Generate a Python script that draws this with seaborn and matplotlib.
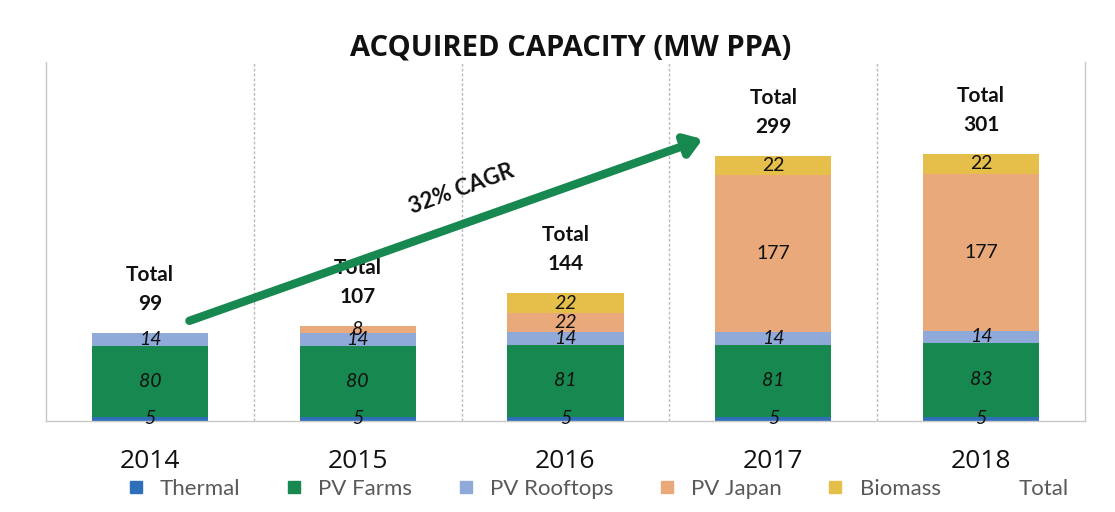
import matplotlib
matplotlib.use("Agg")
import matplotlib.pyplot as plt
from matplotlib.lines import Line2D
import seaborn as sns
import pandas as pd
import numpy as np

years = ["2014", "2015", "2016", "2017", "2018"]
series = ["Thermal", "PV Farms", "PV Rooftops", "PV Japan", "Biomass"]
thermal = [5, 5, 5, 5, 5]
pv_farms = [80, 80, 81, 81, 83]
pv_rooftops = [14, 14, 14, 14, 14]
pv_japan = [0, 8, 22, 177, 177]
biomass = [0, 0, 22, 22, 22]
totals = [99, 107, 144, 299, 301]
colors = ["#2f6fba", "#17884f", "#8fa9d9", "#e9a97b", "#e6bf4a"]

values = {"Thermal": thermal, "PV Farms": pv_farms, "PV Rooftops": pv_rooftops,
          "PV Japan": pv_japan, "Biomass": biomass}

rows = []
for s in series:
    for y, v in zip(years, values[s]):
        rows.append({"year": y, "series": s, "value": v})
df = pd.DataFrame(rows)

sns.set_theme(style="white")
plt.rcParams["font.family"] = ["Lato", "DejaVu Sans"]

fig = plt.figure(figsize=(11.15, 5.12), dpi=100)
ax = fig.add_axes([46 / 1115, 91 / 512, 1039 / 1115, 359 / 512])

bottom = np.zeros(len(years))
for s, c in zip(series, colors):
    sub = df[df["series"] == s]
    sns.barplot(data=sub, x="year", y="value", order=years, color=c,
                width=0.56, bottom=bottom.copy(), ax=ax, errorbar=None,
                saturation=1, linewidth=0)
    vals = np.array(values[s], dtype=float)
    for i, v in enumerate(vals):
        if v <= 0:
            continue
        upright = s in ("PV Japan", "Biomass") and years[i] in ("2017", "2018")
        ax.text(i, bottom[i] + v / 2, str(int(v)), ha="center", va="center",
                fontsize=14, color="#111111",
                style="normal" if upright else "italic")
    bottom += vals

for i, t in enumerate(totals):
    ax.annotate(f"Total\n{t}", xy=(i, t), xytext=(0, 14), textcoords="offset points",
                ha="center", va="bottom", fontsize=15, fontweight="bold",
                color="#111111", linespacing=1.55)

# CAGR arrow
ax.annotate("", xy=(2.66, 318), xytext=(0.19, 113),
            arrowprops=dict(arrowstyle="-|>,head_length=0.8,head_width=0.55",
                            color="#17884f", lw=6, shrinkA=0, shrinkB=0))
ax.text(1.5, 262, "32% CAGR", rotation=20, ha="center", va="center",
        fontsize=16, fontweight="bold", color="#111111", rotation_mode="anchor")

ax.set_xlim(-0.5, 4.5)
ax.set_ylim(0, 405)
for b in [0.5, 1.5, 2.5, 3.5]:
    ax.axvline(b, color="#b8b8c4", lw=1, ls=(0, (2, 1.5)), zorder=0)
ax.set_yticks([])
ax.set_xlabel("")
ax.set_ylabel("")
ax.tick_params(axis="x", length=0, pad=20, labelsize=19, labelcolor="#111111")
for lab in ax.get_xticklabels():
    lab.set_family(["Open Sans", "DejaVu Sans"])
ax.spines["top"].set_visible(False)
for sp in ["left", "right", "bottom"]:
    ax.spines[sp].set_color("#c8c8c8")
    ax.spines[sp].set_linewidth(1)

fig.suptitle("ACQUIRED CAPACITY (MW PPA)", x=0.512, y=0.935, fontsize=21,
             fontweight="bold", color="#111111", family=["Open Sans", "DejaVu Sans"])

handles = [Line2D([], [], marker="s", ls="", color=c, markersize=9) for c in colors]
handles.append(Line2D([], [], ls="", marker=None))
labels = series + ["Total"]
fig.legend(handles, labels, loc="center", bbox_to_anchor=(0.535, 0.045), ncol=6,
           frameon=False, fontsize=16, labelcolor="#595959", handletextpad=0.6,
           columnspacing=1.9, handlelength=1.0)

fig.savefig("out.png", dpi=100)
